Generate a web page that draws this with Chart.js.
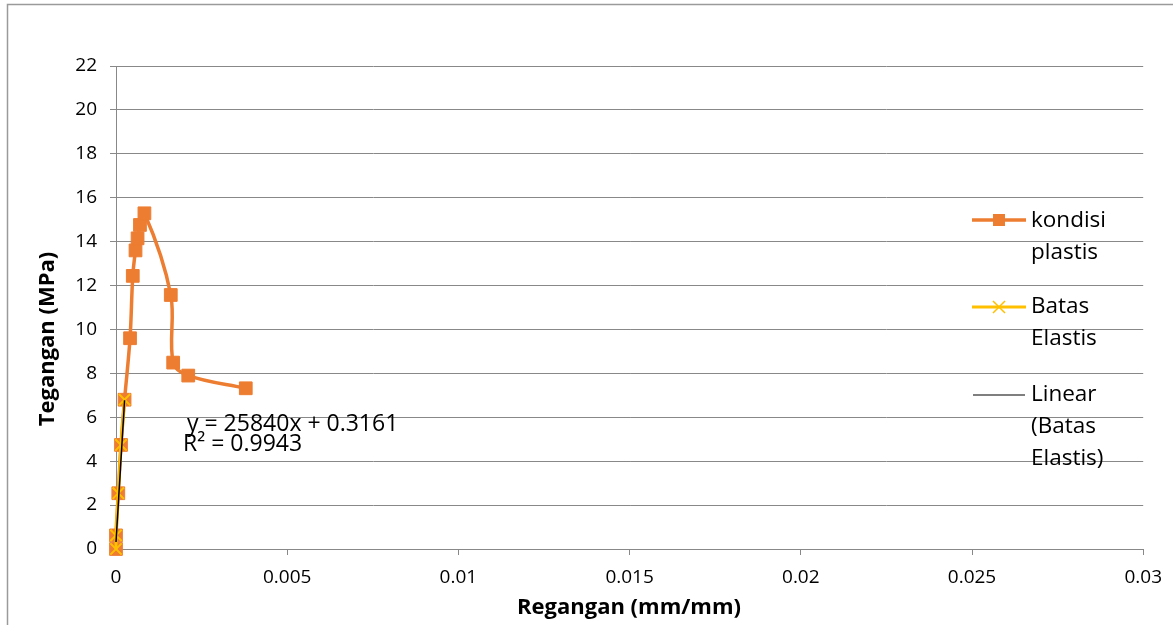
<!DOCTYPE html>
<html>
<head>
<meta charset="utf-8">
<script src="https://cdn.jsdelivr.net/npm/chart.js@4.4.1/dist/chart.umd.min.js"></script>
<style>
  html, body { margin: 0; padding: 0; background: #fff; }
  #wrap { position: relative; width: 1173px; height: 625px; }
</style>
</head>
<body>
<div id="wrap"><canvas id="c" width="1173" height="625"></canvas></div>
<script>
// ---- data ----
const plasticStrain = [0, 0, 0.000067, 0.000146, 0.00025, 0.00041, 0.00049, 0.00057, 0.00063, 0.0007, 0.00083, 0.0016, 0.00167, 0.00211, 0.00379];
const plasticStress = [0, 0.62, 2.54, 4.74, 6.8, 9.6, 12.44, 13.6, 14.15, 14.76, 15.29, 11.57, 8.49, 7.9, 7.32];
const elasticStrain = [0, 0, 0.000067, 0.000146, 0.00025];
const elasticStress = [0, 0.62, 2.54, 4.74, 6.8];
const trendStrain = [0, 0.00025];
const trendStress = [0.3161, 6.7761];
const seriesNames = ['kondisi plastis', 'Batas Elastis', 'Linear (Batas Elastis)'];
const legendLines = [['kondisi', 'plastis'], ['Batas', 'Elastis'], ['Linear', '(Batas', 'Elastis)']];
const equationText = ['y = 25840x + 0.3161', 'R² = 0.9943'];
const xTitle = 'Regangan (mm/mm)';
const yTitle = 'Tegangan (MPa)';
const xTicks = [0, 0.005, 0.01, 0.015, 0.02, 0.025, 0.03];
const yTicks = [0, 2, 4, 6, 8, 10, 12, 14, 16, 18, 20, 22];

const ORANGE = '#ED7D31';
const YELLOW = '#FFC000';
const GRID = '#888888';
const FONT = '"Open Sans", "Noto Sans", sans-serif';

function pts(xs, ys) { return xs.map((x, i) => ({ x: x, y: ys[i] })); }

const decor = {
  id: 'decor',
  beforeDraw(chart) {
    const ctx = chart.ctx;
    ctx.save();
    ctx.strokeStyle = '#9a9a9a';
    ctx.lineWidth = 1.5;
    ctx.beginPath();
    ctx.moveTo(7.5, 640); ctx.lineTo(7.5, 4.5); ctx.lineTo(1200, 4.5);
    ctx.stroke();
    ctx.restore();
  },
  afterDraw(chart) {
    const ctx = chart.ctx;
    ctx.save();
    // axis titles
    ctx.fillStyle = '#000';
    ctx.font = 'bold 22px ' + FONT;
    ctx.textAlign = 'center';
    ctx.textBaseline = 'middle';
    ctx.fillText(xTitle, 629, 608);
    ctx.save();
    ctx.translate(48, 339);
    ctx.rotate(-Math.PI / 2);
    ctx.fillText(yTitle, 0, 0);
    ctx.restore();
    // trendline equation
    ctx.font = '23px ' + FONT;
    ctx.textAlign = 'left';
    ctx.fillText(equationText[0], 187, 424);
    ctx.fillText(equationText[1], 183, 444);
    // legend
    ctx.font = '22.5px ' + FONT;
    const tops = [221, 307, 395];
    const lh = 32;
    legendLines.forEach((lines, i) => {
      lines.forEach((t, j) => ctx.fillText(t, 1031, tops[i] + j * lh));
    });
    // legend symbols
    const y0 = 220, y1 = 307, y2 = 395;
    ctx.lineCap = 'butt';
    ctx.strokeStyle = ORANGE; ctx.lineWidth = 3.5;
    ctx.beginPath(); ctx.moveTo(972, y0); ctx.lineTo(1026, y0); ctx.stroke();
    ctx.fillStyle = ORANGE; ctx.fillRect(993, y0 - 6, 12, 12);
    ctx.strokeStyle = YELLOW; ctx.lineWidth = 3;
    ctx.beginPath(); ctx.moveTo(972, y1); ctx.lineTo(1026, y1); ctx.stroke();
    ctx.lineWidth = 1.5;
    ctx.beginPath();
    ctx.moveTo(993, y1 - 6); ctx.lineTo(1005, y1 + 6);
    ctx.moveTo(1005, y1 - 6); ctx.lineTo(993, y1 + 6);
    ctx.stroke();
    ctx.strokeStyle = '#000'; ctx.lineWidth = 1.2;
    ctx.beginPath(); ctx.moveTo(973, y2); ctx.lineTo(1025, y2); ctx.stroke();
    ctx.restore();
  }
};

new Chart(document.getElementById('c'), {
  type: 'scatter',
  data: {
    datasets: [
      {
        label: seriesNames[2],
        data: pts(trendStrain, trendStress),
        showLine: true,
        borderColor: '#000',
        borderWidth: 1.5,
        pointRadius: 0,
        order: 1,
        clip: false
      },
      {
        label: seriesNames[1],
        data: pts(elasticStrain, elasticStress),
        showLine: true,
        borderColor: YELLOW,
        borderWidth: 3,
        tension: 0.3,
        pointStyle: 'crossRot',
        pointRadius: 8,
        pointBorderWidth: 2,
        pointBorderColor: YELLOW,
        pointBackgroundColor: YELLOW,
        order: 2,
        clip: false
      },
      {
        label: seriesNames[0],
        data: pts(plasticStrain, plasticStress),
        showLine: true,
        borderColor: ORANGE,
        borderWidth: 3.5,
        tension: 0.35,
        pointStyle: 'rect',
        pointRadius: 9,
        pointBorderWidth: 1,
        pointBorderColor: ORANGE,
        pointBackgroundColor: ORANGE,
        order: 3,
        clip: false
      }
    ]
  },
  options: {
    responsive: false,
    animation: false,
    events: [],
    layout: { padding: { top: 66, right: 29, bottom: 0, left: 0 } },
    plugins: { legend: { display: false }, tooltip: { enabled: false } },
    scales: {
      x: {
        type: 'linear',
        min: 0, max: 0.03,
        afterFit(s) { s.height = 76; },
        afterBuildTicks(s) { s.ticks = xTicks.map(v => ({ value: v })); },
        ticks: {
          color: '#000',
          font: { family: FONT, size: 19 },
          padding: 11,
          maxRotation: 0,
          autoSkip: false,
          callback: v => String(+Number(v).toFixed(3))
        },
        grid: { drawOnChartArea: false, drawTicks: true, tickLength: 6, color: GRID },
        border: { color: GRID, width: 1 }
      },
      y: {
        type: 'linear',
        min: 0, max: 22,
        afterFit(s) { s.width = 116; },
        afterBuildTicks(s) { s.ticks = yTicks.map(v => ({ value: v })); },
        ticks: {
          color: '#000',
          font: { family: FONT, size: 19 },
          padding: 13,
          autoSkip: false
        },
        grid: { color: GRID, tickLength: 6, lineWidth: 1 },
        border: { color: GRID, width: 1 }
      }
    }
  },
  plugins: [decor]
});
</script>
</body>
</html>
